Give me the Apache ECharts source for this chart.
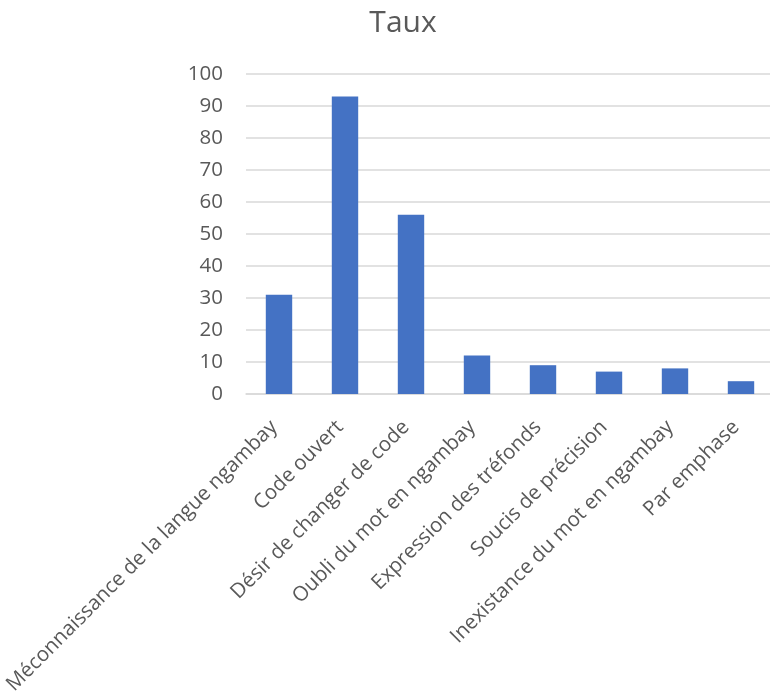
<!DOCTYPE html>
<html>
<head>
<meta charset="utf-8">
<script src="https://cdn.jsdelivr.net/npm/echarts@6/dist/echarts.min.js"></script>
<style>
  html, body { margin: 0; padding: 0; background: #fff; }
  #chart { width: 770px; height: 696px; }
</style>
</head>
<body>
<div id="chart"></div>
<script>
// categories and values
const categories = [
  'Méconnaissance de la langue ngambay',
  'Code ouvert',
  'Désir de changer de code',
  'Oubli du mot en ngambay',
  'Expression des tréfonds',
  'Soucis de précision',
  'Inexistance du mot en ngambay',
  'Par emphase'
]
const taux = [31, 93, 56, 12, 9, 7, 8, 4]
const yTicks = { min: 0, max: 100, interval: 10 }

const textColor = '#595959'
const gridColor = '#d9d9d9'
const fontFamily = '"Open Sans", "Noto Sans", sans-serif'

const chart = echarts.init(document.getElementById('chart'))
chart.setOption({
  animation: false,
  title: {
    text: 'Taux',
    left: 398,
    textAlign: 'center',
    top: 3,
    textStyle: { color: textColor, fontSize: 30, fontWeight: 'normal', fontFamily: fontFamily }
  },
  grid: { left: 246, right: -4, top: 74, bottom: 302, containLabel: false, outerBoundsMode: 'none' },
  xAxis: {
    type: 'category',
    data: categories,
    axisTick: { show: false },
    axisLine: { lineStyle: { color: gridColor, width: 1.5 } },
    axisLabel: {
      interval: 0,
      rotate: 45,
      margin: 25,
      padding: [0, 7, 0, 0],
      color: textColor,
      fontSize: 20.5,
      fontFamily: fontFamily
    }
  },
  yAxis: {
    type: 'value',
    min: yTicks.min,
    max: yTicks.max,
    interval: yTicks.interval,
    axisLine: { show: false },
    axisTick: { show: false },
    splitLine: { lineStyle: { color: gridColor, width: 1.5 } },
    axisLabel: { margin: 23, color: textColor, fontSize: 20.5, fontFamily: fontFamily }
  },
  series: [{
    name: 'Taux',
    type: 'bar',
    data: taux,
    barWidth: '40%',
    itemStyle: { color: '#4472c4' }
  }]
})
</script>
</body>
</html>
